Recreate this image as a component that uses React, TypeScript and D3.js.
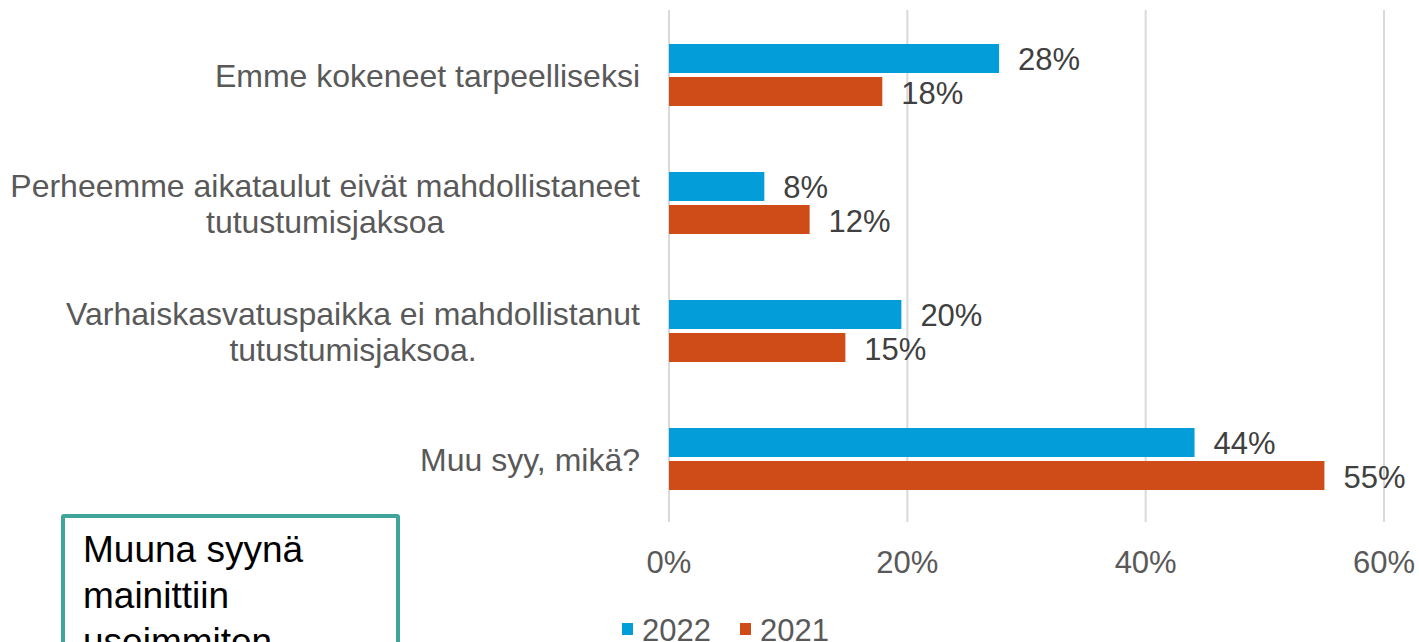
import React from "react";
import * as d3 from "d3";

const categories = [
  ["Emme kokeneet tarpeelliseksi"],
  ["Perheemme aikataulut eivät mahdollistaneet", "tutustumisjaksoa"],
  ["Varhaiskasvatuspaikka ei mahdollistanut", "tutustumisjaksoa."],
  ["Muu syy, mikä?"],
];
const values2022 = [27.7, 8.0, 19.5, 44.1];
const values2021 = [17.9, 11.8, 14.8, 55.0];
const labels2022 = ["28%", "8%", "20%", "44%"];
const labels2021 = ["18%", "12%", "15%", "55%"];
const ticks = [0, 20, 40, 60];
const seriesNames = ["2022", "2021"];
const boxLines = ["Muuna syynä", "mainittiin", "useimmiten"];

const BLUE = "#039DD9";
const ORANGE = "#CF4B17";
const FONT = "'Liberation Sans', Arial, sans-serif";

let ctx: CanvasRenderingContext2D | null = null;
function measure(text: string, size: number) {
  if (!ctx) ctx = document.createElement("canvas").getContext("2d");
  if (!ctx) return text.length * size * 0.5;
  ctx.font = `${size}px 'Liberation Sans', Arial, sans-serif`;
  return ctx.measureText(text).width;
}

export default function App() {
  const W = 1419, H = 642;
  const x = d3.scaleLinear().domain([0, 60]).range([669, 1384]);
  const y = d3
    .scalePoint<number>()
    .domain(categories.map((_, i) => i))
    .range([11, 523])
    .padding(0.5);
  const barH = 29;
  const catSize = 32;
  const labelRight = 640;
  return (
    <svg
      width={W}
      height={H}
      style={{ position: "absolute", left: 0, top: 0, background: "#fff" }}
      fontFamily={FONT}
    >
      {ticks.map((t) => (
        <g key={t}>
          <line x1={x(t)} x2={x(t)} y1={10} y2={522} stroke="#D9D9D9" strokeWidth={2} />
          <text x={x(t)} y={573} textAnchor="middle" fontSize={31} fill="#595959">
            {t}%
          </text>
        </g>
      ))}
      {categories.map((lines, i) => {
        const c = y(i)!;
        const lh = 36;
        const y0 = c - ((lines.length - 1) * lh) / 2 + 11.5;
        const maxW = Math.max(...lines.map((l) => measure(l, catSize)));
        const cx = labelRight - maxW / 2;
        return (
          <g key={i}>
            {lines.map((l, j) => (
              <text
                key={j}
                x={cx}
                y={y0 + j * lh}
                textAnchor="middle"
                fontSize={catSize}
                fill="#595959"
              >
                {l}
              </text>
            ))}
            <rect x={x(0)} y={c - 31} width={x(values2022[i]) - x(0)} height={barH} fill={BLUE} />
            <rect x={x(0)} y={c + 2} width={x(values2021[i]) - x(0)} height={barH} fill={ORANGE} />
            <text x={x(values2022[i]) + 19} y={c - 5} fontSize={31} fill="#404040">
              {labels2022[i]}
            </text>
            <text x={x(values2021[i]) + 19} y={c + 29} fontSize={31} fill="#404040">
              {labels2021[i]}
            </text>
          </g>
        );
      })}
      <g>
        <rect x={622} y={623} width={11} height={12} fill={BLUE} />
        <text x={642} y={641} fontSize={31} fill="#595959">{seriesNames[0]}</text>
        <rect x={740} y={623} width={11} height={12} fill={ORANGE} />
        <text x={760} y={641} fontSize={31} fill="#595959">{seriesNames[1]}</text>
      </g>
      <rect x={63} y={516} width={335} height={160} fill="#fff" stroke="#3FA59A" strokeWidth={4} rx={1} />
      {boxLines.map((l, i) => (
        <text key={i} x={83} y={562 + i * 46} fontSize={37} fill="#000">
          {l}
        </text>
      ))}
    </svg>
  );
}
